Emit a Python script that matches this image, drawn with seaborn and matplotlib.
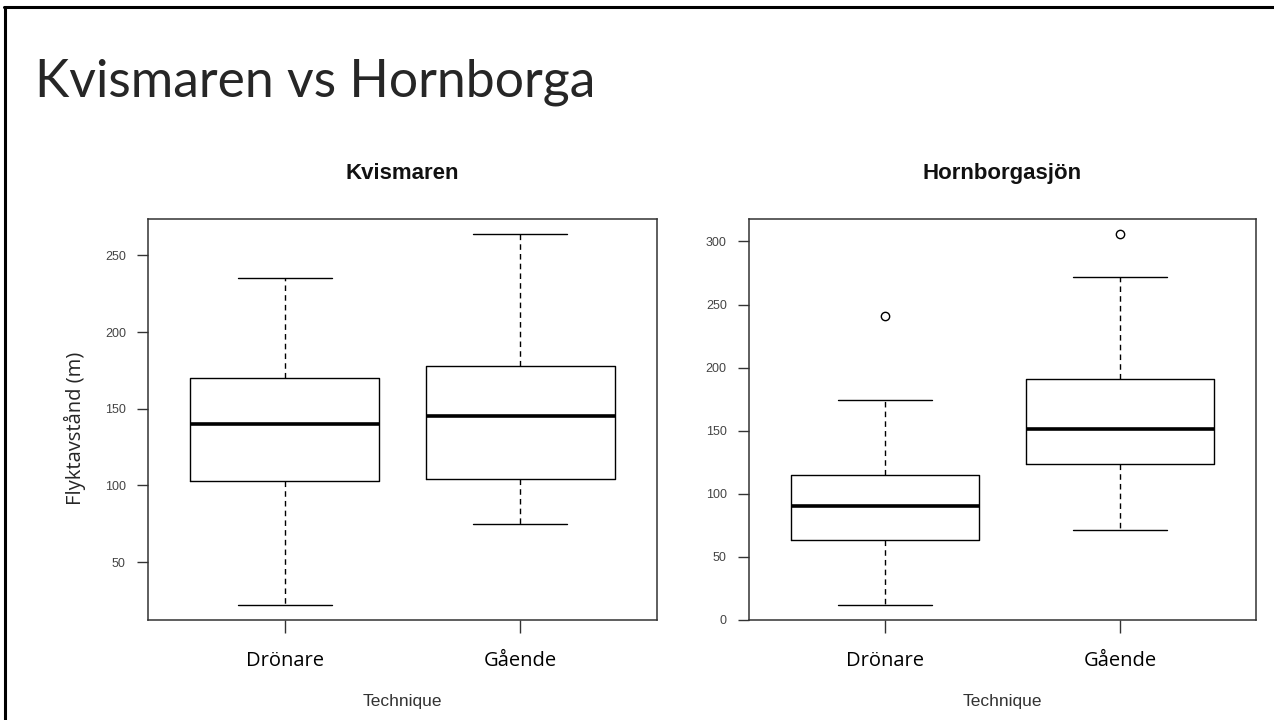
import numpy as np
import pandas as pd
import matplotlib
matplotlib.use("Agg")
import matplotlib.pyplot as plt
from matplotlib.lines import Line2D
import seaborn as sns

# five-number summaries: lower whisker, Q1, median, Q3, upper whisker
techniques = ["Drönare", "Gående"]
kvis_dronare = [22, 103, 140, 170, 235]
kvis_gaende = [75, 104, 145, 178, 264]
horn_dronare = [12, 63, 90, 115, 174]
horn_gaende = [71, 124, 151, 191, 272]
horn_outlier_tech = ["Drönare", "Gående"]
horn_outlier_vals = [241, 306]

kvis_ticks = [50, 100, 150, 200, 250]
horn_ticks = [0, 50, 100, 150, 200, 250, 300]

kvis = pd.DataFrame({"Technique": np.repeat(techniques, 5),
                     "Avstand": kvis_dronare + kvis_gaende})
horn = pd.DataFrame({"Technique": np.repeat(techniques, 5),
                     "Avstand": horn_dronare + horn_gaende})
horn_out = pd.DataFrame({"Technique": horn_outlier_tech, "Avstand": horn_outlier_vals})

sns.set_style("white")
plt.rcParams["font.family"] = ["Liberation Sans", "DejaVu Sans"]

fig = plt.figure(figsize=(12.74, 7.2), dpi=100)
ax1 = fig.add_axes([0.1162, 0.1389, 0.3995, 0.5569])
ax2 = fig.add_axes([0.5879, 0.1389, 0.3980, 0.5569])


def draw_panel(ax, df, outliers, ticks, title, ylabel=None):
    sns.boxplot(data=df, x="Technique", y="Avstand", order=techniques, ax=ax,
                width=0.8, whis=np.inf, fill=False, color="black", linewidth=1.0,
                medianprops={"linewidth": 2.6, "color": "black"},
                whiskerprops={"linestyle": (0, (4, 3))})
    vals = list(df["Avstand"])
    if outliers is not None:
        sns.stripplot(data=outliers, x="Technique", y="Avstand", order=techniques, ax=ax,
                      jitter=False, marker="o", size=6, color="white",
                      edgecolor="black", linewidth=1.0, zorder=5)
        vals += list(outliers["Avstand"])
    lo, hi = min(vals), max(vals)
    pad = 0.04 * (hi - lo)
    ax.set_ylim(lo - pad, hi + pad)
    ax.set_xlim(-0.58, 1.58)
    ax.set_yticks(ticks)
    ax.set_yticklabels([str(t) for t in ticks], fontsize=9, color="#444")
    ax.set_xticks([0, 1])
    ax.set_xticklabels(techniques, fontsize=14.5, family=["Open Sans", "DejaVu Sans"], color="black")
    ax.tick_params(axis="y", left=True, length=8, width=1, pad=8, color="#333")
    ax.tick_params(axis="x", bottom=True, length=9.5, width=1, pad=13, color="#333")
    for s in ax.spines.values():
        s.set_color("#333")
        s.set_linewidth(1.1)
    ax.set_xlabel("")
    ax.set_ylabel("")
    ax.text(0.5, 1.1147, title, transform=ax.transAxes, ha="center", va="center",
            fontsize=16, fontweight="bold", color="#111")
    ax.text(0.5, -0.2045, "Technique", transform=ax.transAxes, ha="center", va="center",
            fontsize=12.5, color="#333")
    if ylabel:
        ax.set_ylabel(ylabel, fontsize=14.5, family=["Open Sans", "DejaVu Sans"], va="center")
        ax.yaxis.set_label_coords(-0.1434, 0.479)


draw_panel(ax1, kvis, None, kvis_ticks, "Kvismaren", "Flyktavstånd (m)")
draw_panel(ax2, horn, horn_out, horn_ticks, "Hornborgasjön")

fig.text(35 / 1274, 1 - 97 / 720, "Kvismaren vs Hornborga", ha="left", va="baseline",
         fontsize=37.3, fontweight="normal", family=["Lato", "DejaVu Sans"], color="#262626")

# slide frame (top and left edges only)
fig.add_artist(Line2D([0.003, 1.0], [0.9896, 0.9896], transform=fig.transFigure,
                      color="black", linewidth=2.2))
fig.add_artist(Line2D([0.0043, 0.0043], [0.0, 0.9906], transform=fig.transFigure,
                      color="black", linewidth=2.2))

fig.savefig("out.png", dpi=100, facecolor="white")
